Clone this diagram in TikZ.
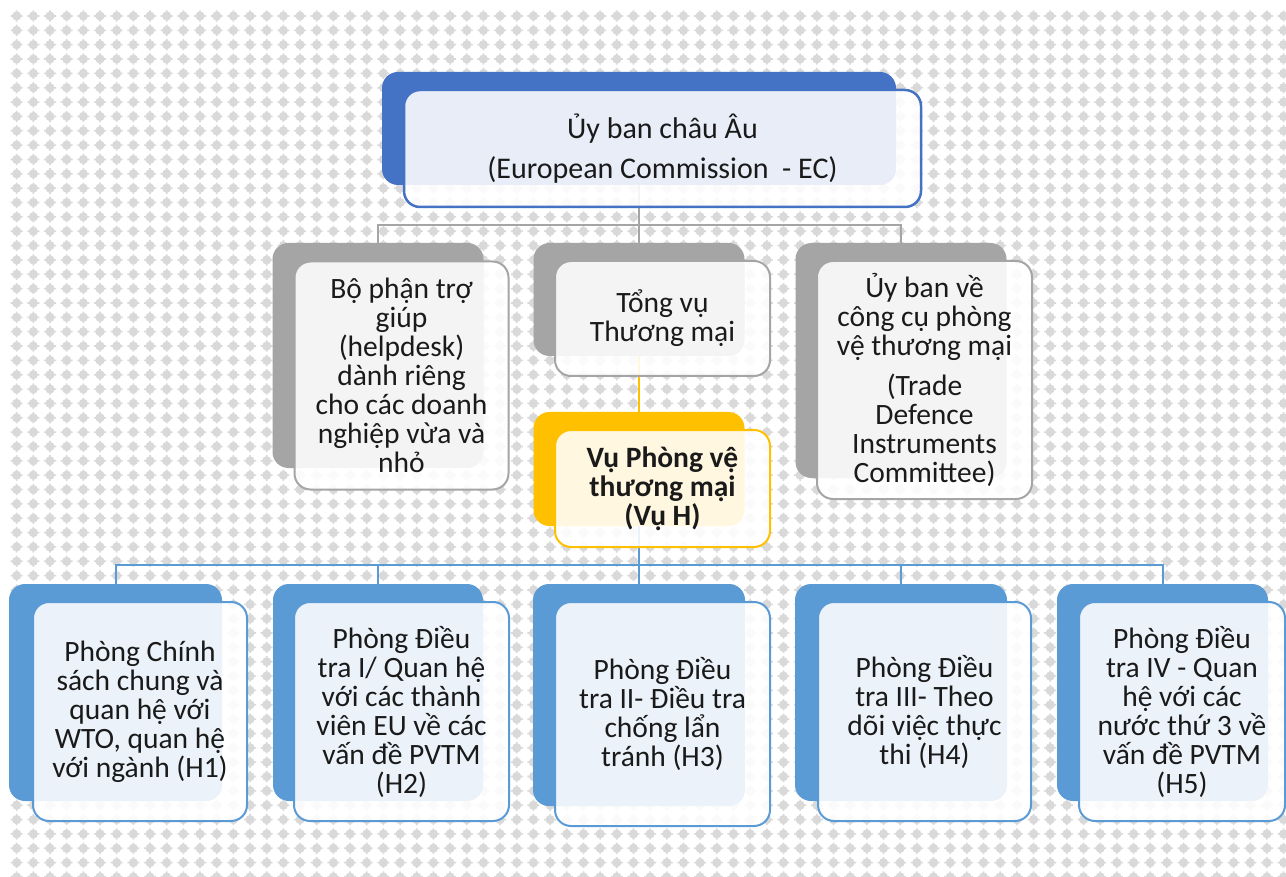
\documentclass[tikz,border=0pt]{standalone}
\usepackage{fontspec}
\setmainfont{Carlito}
\usetikzlibrary{patterns}
\definecolor{ecblue}{HTML}{4472C4}
\definecolor{hblue}{HTML}{5B9BD5}
\definecolor{mgrey}{HTML}{A5A5A5}
\definecolor{myellow}{HTML}{FFC000}
\definecolor{dotgrey}{HTML}{D9D9D9}
\definecolor{txtc}{HTML}{1A1A1A}
\pgfdeclarepatternformonly{bgdots}{\pgfpoint{-8.335pt}{-7.175pt}}{\pgfpoint{8.335pt}{7.175pt}}{\pgfpoint{16.67pt}{14.35pt}}{%
  \pgfpathcircle{\pgfpointorigin}{4.6pt}%
  \pgfpathrectangle{\pgfpoint{-6pt}{-0.8pt}}{\pgfpoint{12pt}{1.6pt}}%
  \pgfpathrectangle{\pgfpoint{-0.8pt}{-5.6pt}}{\pgfpoint{1.6pt}{11.2pt}}%
  \pgfusepath{fill}%
}
\pgfdeclarelayer{bg}
\pgfsetlayers{bg,main}
\begin{document}
\setlength{\lineskiplimit}{-100pt}
\begin{tikzpicture}[x=1pt,y=-1pt,
  backbox/.style={rounded corners=16pt, inner sep=0pt, draw=none},
  frontbox/.style={rounded corners=16pt, fill=white, fill opacity=0.88, text opacity=1,
     line width=2pt, align=center, inner sep=0pt, text=txtc,
     font=\fontsize{29.5}{29}\selectfont},
  gline/.style={draw=mgrey, line width=2pt},
  yline/.style={draw=myellow, line width=2pt},
  bline/.style={draw=hblue, line width=2pt},
]
\useasboundingbox (0,0) rectangle (1286,877);

% ---- boxes: back layers ----
\node[backbox, fill=ecblue, minimum width=514pt, minimum height=113pt] (ecB) at (639,128.5) {};
\node[backbox, fill=mgrey, minimum width=211pt, minimum height=225pt] (b1B) at (378,355.5) {};
\node[backbox, fill=mgrey, minimum width=211pt, minimum height=113pt] (b2B) at (639,299.5) {};
\node[backbox, fill=mgrey, minimum width=211pt, minimum height=235pt] (b3B) at (901,360.5) {};
\node[backbox, fill=myellow, minimum width=211pt, minimum height=114pt] (vhB) at (639,469) {};
\node[backbox, fill=hblue, minimum width=213pt, minimum height=217pt] (h1B) at (115.5,692.5) {};
\node[backbox, fill=hblue, minimum width=210pt, minimum height=217pt] (h2B) at (378,692.5) {};
\node[backbox, fill=hblue, minimum width=212pt, minimum height=222pt] (h3B) at (639,695) {};
\node[backbox, fill=hblue, minimum width=212pt, minimum height=217pt] (h4B) at (901,692.5) {};
\node[backbox, fill=hblue, minimum width=211pt, minimum height=217pt] (h5B) at (1162.5,692.5) {};

% ---- boxes: front layers ----
\node[frontbox, draw=ecblue, line width=2.5pt, minimum width=517pt, minimum height=117pt,
  font=\fontsize{30}{40}\selectfont] (ec) at (662.5,148.5)
  {Ủy ban châu Âu\\(European Commission~ - EC)};
\node[frontbox, draw=mgrey, minimum width=214pt, minimum height=228pt] (b1) at (401.5,375.5)
  {Bộ phận trợ\\giúp\\(helpdesk)\\dành riêng\\cho các doanh\\nghiệp vừa và\\nhỏ};
\node[frontbox, draw=mgrey, minimum width=215pt, minimum height=115pt] (b2) at (662.5,318.5)
  {Tổng vụ\\Thương mại};
\node[frontbox, draw=mgrey, minimum width=215pt, minimum height=238pt] (b3) at (924.5,380)
  {Ủy ban về\\công cụ phòng\\vệ thương mại\\[11pt](Trade\\Defence\\Instruments\\Committee)};
\node[frontbox, draw=myellow, minimum width=215pt, minimum height=117pt,
  font=\fontsize{29.5}{29}\selectfont\bfseries] (vh) at (662.5,488.5)
  {Vụ Phòng vệ\\thương mại\\(Vụ H)};
\node[frontbox, draw=hblue, minimum width=214pt, minimum height=219pt] (h1) at (140,711.5)
  {Phòng Chính\\sách chung và\\quan hệ với\\WTO, quan hệ\\với ngành (H1)};
\node[frontbox, draw=hblue, minimum width=215pt, minimum height=219pt] (h2) at (401.5,711.5)
  {Phòng Điều\\tra I/ Quan hệ\\với các thành\\viên EU về các\\vấn đề PVTM\\(H2)};
\node[frontbox, draw=hblue, minimum width=215pt, minimum height=224pt] (h3) at (662.5,714)
  {Phòng Điều\\tra II- Điều tra\\chống lẩn\\tránh (H3)};
\node[frontbox, draw=hblue, minimum width=213pt, minimum height=219pt] (h4) at (924.5,711.5)
  {Phòng Điều\\tra III- Theo\\dõi việc thực\\thi (H4)};
\node[frontbox, draw=hblue, minimum width=206pt, minimum height=219pt] (h5) at (1182,711.5)
  {Phòng Điều\\tra IV - Quan\\hệ với các\\nước thứ 3 về\\vấn đề PVTM\\(H5)};

% ---- background dots and connectors ----
\begin{pgfonlayer}{bg}
  \fill[white] (0,0) rectangle (1286,877);
  \fill[pattern=bgdots, pattern color=dotgrey] (7,8) rectangle (1286,877);
  \draw[gline] (ecB.south) -- ++(0,40) -| (b1B.north);
  \draw[gline] (ecB.south) -- ++(0,40) -| (b2B.north);
  \draw[gline] (ecB.south) -- ++(0,40) -| (b3B.north);
  \draw[yline] (b2B.south) -- (vhB.north);
  \draw[bline] (vhB.south) -- ++(0,39) -| (h1B.north);
  \draw[bline] (vhB.south) -- ++(0,39) -| (h2B.north);
  \draw[bline] (vhB.south) -- ++(0,39) -| (h3B.north);
  \draw[bline] (vhB.south) -- ++(0,39) -| (h4B.north);
  \draw[bline] (vhB.south) -- ++(0,39) -| (h5B.north);
\end{pgfonlayer}
\end{tikzpicture}
\end{document}
